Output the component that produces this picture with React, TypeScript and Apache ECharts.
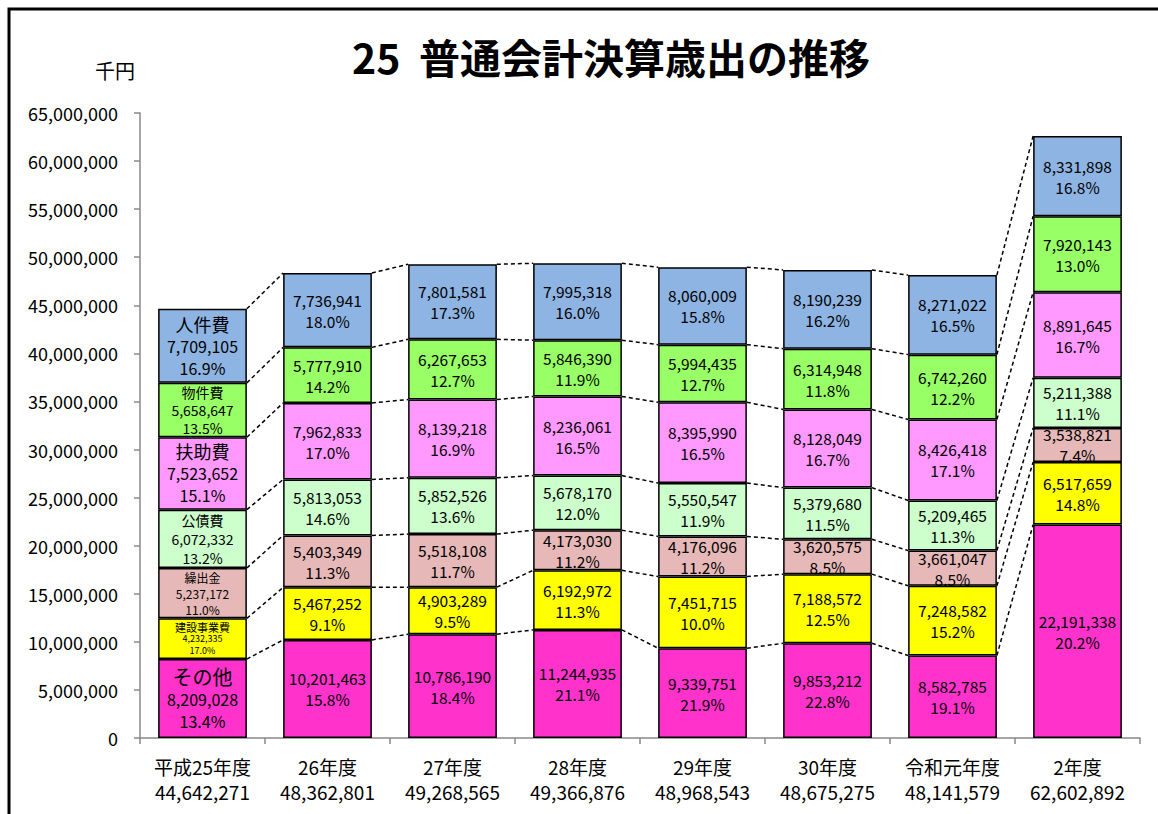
import React, { useEffect, useRef } from "react";
import * as echarts from "echarts";

const categories = ["平成25年度", "26年度", "27年度", "28年度", "29年度", "30年度", "令和元年度", "2年度"];
const totals = [44642271, 48362801, 49268565, 49366876, 48968543, 48675275, 48141579, 62602892];

// bottom -> top
const seriesNames = ["その他", "建設事業費", "繰出金", "公債費", "扶助費", "物件費", "人件費"];
const sonota = [8209028, 10201463, 10786190, 11244935, 9339751, 9853212, 8582785, 22191338];
const kensetsu = [4232335, 5467252, 4903289, 6192972, 7451715, 7188572, 7248582, 6517659];
const kuridashi = [5237172, 5403349, 5518108, 4173030, 4176096, 3620575, 3661047, 3538821];
const kousai = [6072332, 5813053, 5852526, 5678170, 5550547, 5379680, 5209465, 5211388];
const fujo = [7523652, 7962833, 8139218, 8236061, 8395990, 8128049, 8426418, 8891645];
const bukken = [5658647, 5777910, 6267653, 5846390, 5994435, 6314948, 6742260, 7920143];
const jinken = [7709105, 7736941, 7801581, 7995318, 8060009, 8190239, 8271022, 8331898];

const pctSonota = [13.4, 15.8, 18.4, 21.1, 21.9, 22.8, 19.1, 20.2];
const pctKensetsu = [17.0, 9.1, 9.5, 11.3, 10.0, 12.5, 15.2, 14.8];
const pctKuridashi = [11.0, 11.3, 11.7, 11.2, 11.2, 8.5, 8.5, 7.4];
const pctKousai = [13.2, 14.6, 13.6, 12.0, 11.9, 11.5, 11.3, 11.1];
const pctFujo = [15.1, 17.0, 16.9, 16.5, 16.5, 16.7, 17.1, 16.7];
const pctBukken = [13.5, 14.2, 12.7, 11.9, 12.7, 11.8, 12.2, 13.0];
const pctJinken = [16.9, 18.0, 17.3, 16.0, 15.8, 16.2, 16.5, 16.8];

const values = [sonota, kensetsu, kuridashi, kousai, fujo, bukken, jinken];
const pcts = [pctSonota, pctKensetsu, pctKuridashi, pctKousai, pctFujo, pctBukken, pctJinken];
const colors = ["#FF33CC", "#FFFF00", "#E6B9B8", "#CCFFCC", "#FF99FF", "#99FF66", "#8DB4E2"];
// first bar label sizes: [name, value, lineHeight]
const firstSizes = [
  [20, 16, 22],
  [11, 9, 12],
  [12, 12, 16],
  [14, 14, 19],
  [18, 16, 22],
  [14, 14, 18],
  [18, 16, 22],
];

const FONT = "'Noto Sans CJK JP', 'Noto Sans', sans-serif";
const fmt = (v: number) => v.toLocaleString("en-US");

export default function App() {
  const ref = useRef<HTMLDivElement>(null);
  useEffect(() => {
    const chart = echarts.init(ref.current!, null, { renderer: "svg" });

    const barSeries = values.map((arr, s) => ({
      name: seriesNames[s],
      type: "bar",
      stack: "total",
      barWidth: "71%",
      z: 3,
      itemStyle: { color: colors[s], borderColor: "#000", borderWidth: 1.5 },
      label: {
        show: true,
        position: "inside",
        color: "#000",
        fontFamily: FONT,
        fontSize: 15.5,
        lineHeight: 21,
        formatter: (p: any) => `${fmt(p.value)}\n${pcts[s][p.dataIndex].toFixed(1)}%`,
      },
      data: arr.map((v, i) => {
        if (i !== 0) return v;
        const [ns, vs, lh] = firstSizes[s];
        return {
          value: v,
          label: {
            formatter: `{n|${seriesNames[s]}}\n{v|${fmt(v)}}\n{v|${pcts[s][0].toFixed(1)}%}`,
            rich: {
              n: { fontSize: ns, lineHeight: lh, fontFamily: FONT, color: "#000" },
              v: { fontSize: vs, lineHeight: lh, fontFamily: FONT, color: "#000" },
            },
          },
        };
      }),
    }));

    // cumulative tops per level
    const cum: number[][] = [];
    values.forEach((arr, s) => {
      cum.push(arr.map((v, i) => v + (s > 0 ? cum[s - 1][i] : 0)));
    });
    const lineData: number[][] = [];
    for (let i = 0; i < categories.length - 1; i++) {
      for (let k = 0; k < cum.length; k++) {
        lineData.push([i, cum[k][i], cum[k][i + 1]]);
      }
    }

    chart.setOption({
      animation: false,
      textStyle: { fontFamily: FONT },
      graphic: [
        {
          type: "rect",
          shape: { x: 9, y: 9, width: 1300, height: 1000 },
          style: { fill: "none", stroke: "#000", lineWidth: 3 },
          silent: true,
          z: -1,
        },
        {
          type: "text",
          x: 611,
          y: 56,
          style: {
            text: "25  普通会計決算歳出の推移",
            font: `bold 41px ${FONT}`,
            fill: "#000",
            textAlign: "center",
            textVerticalAlign: "middle",
          },
        },
        {
          type: "text",
          x: 115,
          y: 70,
          style: {
            text: "千円",
            font: `20px ${FONT}`,
            fill: "#000",
            textAlign: "center",
            textVerticalAlign: "middle",
          },
        },
      ],
      grid: { left: 140, right: 18, top: 113, bottom: 76, containLabel: false },
      xAxis: {
        type: "category",
        data: categories,
        axisLine: { lineStyle: { color: "#888", width: 1.5 } },
        axisTick: { show: true, length: 6, lineStyle: { color: "#888", width: 1.5 } },
        axisLabel: {
          color: "#000",
          fontFamily: FONT,
          fontSize: 19,
          lineHeight: 25,
          margin: 16,
          interval: 0,
          formatter: (v: string, i: number) => `${v}\n${fmt(totals[i])}`,
        },
      },
      yAxis: {
        type: "value",
        min: 0,
        max: 65000000,
        interval: 5000000,
        axisLine: { show: true, lineStyle: { color: "#888", width: 1.5 } },
        axisTick: { show: true, length: 6, lineStyle: { color: "#888", width: 1.5 } },
        splitLine: { show: false },
        axisLabel: {
          color: "#000",
          fontFamily: FONT,
          fontSize: 18,
          margin: 22,
          formatter: (v: number) => fmt(v),
        },
      },
      series: [
        ...barSeries,
        {
          type: "custom",
          z: 2,
          silent: true,
          data: lineData,
          encode: { x: 0, y: [1, 2] },
          renderItem: (params: any, api: any) => {
            const i = api.value(0);
            const bw = api.size([1, 0])[0] * 0.71;
            const p1 = api.coord([i, api.value(1)]);
            const p2 = api.coord([i + 1, api.value(2)]);
            return {
              type: "line",
              shape: { x1: p1[0] + bw / 2, y1: p1[1], x2: p2[0] - bw / 2, y2: p2[1] },
              style: { stroke: "#000", lineWidth: 1.5, lineDash: [4, 3] },
            };
          },
        },
      ],
    });
    return () => chart.dispose();
  }, []);
  return (
    <div
      ref={ref}
      style={{ position: "absolute", left: 0, top: 0, width: 1158, height: 814, background: "#fff" }}
    />
  );
}
